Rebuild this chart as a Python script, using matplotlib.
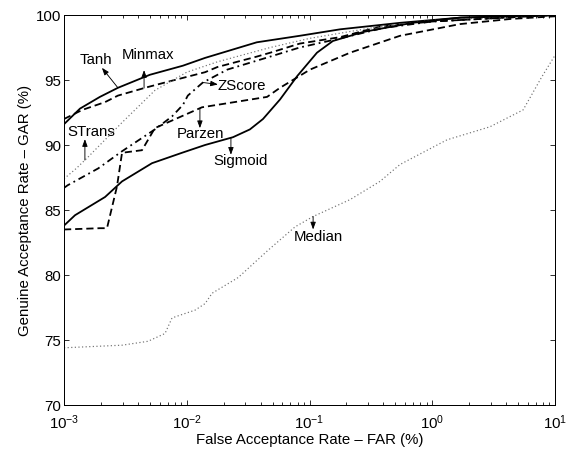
import numpy as np
import matplotlib
matplotlib.use("Agg")
import matplotlib.pyplot as plt

plt.rcParams["font.family"] = ["Liberation Sans", "DejaVu Sans"]
plt.rcParams["mathtext.fontset"] = "custom"
plt.rcParams["mathtext.rm"] = "Liberation Sans"
plt.rcParams["mathtext.it"] = "Liberation Sans:italic"

# curves (FAR in %, GAR in %)
tanh_far = [0.001, 0.00135, 0.00196, 0.00275, 0.0050, 0.0093, 0.0141, 0.0372, 0.0832, 0.178, 0.55, 1.70, 10]
tanh_gar = [91.6, 92.8, 93.7, 94.4, 95.4, 96.1, 96.7, 97.9, 98.4, 98.9, 99.4, 99.8, 100]

minmax_far = [0.001, 0.00141, 0.00216, 0.00275, 0.00457, 0.0066, 0.0141, 0.0178, 0.0372, 0.0479,
              0.0832, 0.178, 0.372, 1.0, 10]
minmax_gar = [92.0, 92.7, 93.3, 93.8, 94.4, 94.8, 95.6, 96.0, 96.8, 97.1, 97.8, 98.3, 99.1, 99.5, 100]

strans_far = [0.001, 0.00126, 0.00158, 0.00295, 0.0055, 0.010, 0.0178, 0.0479, 0.10, 0.316, 1.0, 10]
strans_gar = [87.4, 88.2, 89.1, 91.7, 94.2, 95.6, 96.4, 97.5, 98.2, 99.0, 99.6, 100]

zscore_far = [0.001, 0.00107, 0.0019, 0.00295, 0.0055, 0.00759, 0.00933, 0.0102, 0.0135, 0.0214,
              0.0479, 0.0832, 0.178, 0.398, 1.0, 10]
zscore_gar = [86.7, 86.9, 88.2, 89.5, 91.2, 92.2, 93.1, 93.8, 94.8, 95.8, 96.8, 97.5, 98.2, 99.0, 99.5, 100]

parzen_far = [0.001, 0.00196, 0.00224, 0.0027, 0.00297, 0.00432, 0.0055, 0.0133, 0.0451, 0.0575,
              0.101, 0.214, 0.546, 1.68, 4.39, 10]
parzen_gar = [83.5, 83.6, 83.6, 86.8, 89.4, 89.6, 91.3, 92.9, 93.7, 94.4, 95.8, 97.1, 98.4, 99.3, 99.7, 99.9]

sigmoid_far = [0.001, 0.00123, 0.00216, 0.00297, 0.00521, 0.00914, 0.0141, 0.0238, 0.0327, 0.0418,
               0.0575, 0.0794, 0.115, 0.155, 0.275, 0.692, 1.70, 10]
sigmoid_gar = [83.8, 84.6, 86.0, 87.2, 88.6, 89.4, 90.0, 90.6, 91.2, 92.0, 93.5, 95.3, 97.1, 98.0,
               98.7, 99.4, 99.8, 100]

median_far = [0.001, 0.00297, 0.00483, 0.00665, 0.00759, 0.0117, 0.0141, 0.0161, 0.0262, 0.0459,
              0.0762, 0.107, 0.214, 0.375, 0.546, 1.32, 2.95, 5.5, 7.76, 10]
median_gar = [74.4, 74.6, 74.9, 75.5, 76.7, 77.3, 77.8, 78.6, 79.8, 81.9, 83.7, 84.5, 85.8, 87.2,
              88.5, 90.4, 91.4, 92.7, 95.2, 96.9]

y_ticks = [70, 75, 80, 85, 90, 95, 100]

fig = plt.figure(figsize=(567 / 72, 450 / 72), dpi=72)
ax = fig.add_axes([64 / 567, 45 / 450, 491 / 567, 390 / 450])

dash = (4, 2.2)
curves = {
    "Tanh": (tanh_far, tanh_gar, dict(color="black", lw=1.8, ls="-")),
    "Minmax": (minmax_far, minmax_gar, dict(color="black", lw=1.8, dashes=dash)),
    "STrans": (strans_far, strans_gar, dict(color="0.45", lw=1.2, ls=(0, (1, 2)))),
    "ZScore": (zscore_far, zscore_gar, dict(color="black", lw=1.8, dashes=(4, 2.2, 1, 2.2))),
    "Parzen": (parzen_far, parzen_gar, dict(color="black", lw=1.8, dashes=dash)),
    "Sigmoid": (sigmoid_far, sigmoid_gar, dict(color="black", lw=1.8, ls="-")),
    "Median": (median_far, median_gar, dict(color="0.45", lw=1.2, ls=(0, (1, 2)))),
}
for name, (fx, gy, style) in curves.items():
    ax.plot(fx, gy, **style)

# label: (anchor FAR on the curve, arrow head offset, text offset, ha) offsets in points
labels = {
    "Tanh": (0.00275, (-16, 20), (-22, 28), "center"),
    "Minmax": (0.00449, (0, 18), (4, 33), "center"),
    "ZScore": (0.01355, (15, -2), (15, -4), "left"),
    "STrans": (0.00148, (0, 21), (6, 28), "center"),
    "Parzen": (0.0128, (0, -20), (1, -26), "center"),
    "Sigmoid": (0.0229, (0, -17), (10, -23), "center"),
    "Median": (0.107, (0, -13), (5, -20), "center"),
}
for name, (fa, head, toff, ha) in labels.items():
    fx, gy, _ = curves[name]
    ya = np.interp(np.log10(fa), np.log10(fx), gy)
    ax.annotate("", xy=(fa, ya), xytext=head, textcoords="offset points",
                arrowprops=dict(arrowstyle="<|-,head_length=0.6,head_width=0.22",
                                color="black", lw=0.9, shrinkA=0, shrinkB=0))
    ax.annotate(name, xy=(fa, ya), xytext=toff, textcoords="offset points",
                ha=ha, va="center", fontsize=15)

ax.set_xscale("log")
ax.set_xlim(1e-3, 10)
ax.set_ylim(70, 100)
ax.set_yticks(y_ticks)
ax.tick_params(which="both", direction="in", top=True, right=True, labelsize=15, width=0.8)
ax.tick_params(which="major", length=5)
ax.tick_params(which="minor", length=3)
ax.tick_params(axis="x", which="major", pad=8)
ax.tick_params(axis="y", which="major", pad=3)
for sp in ax.spines.values():
    sp.set_linewidth(1.0)

ax.set_xlabel("False Acceptance Rate \u2013 FAR (%)", fontsize=15, labelpad=1)
ax.set_ylabel("Genuine Acceptance Rate \u2013 GAR (%)", fontsize=15, labelpad=4)

fig.savefig("out.png", dpi=72)
